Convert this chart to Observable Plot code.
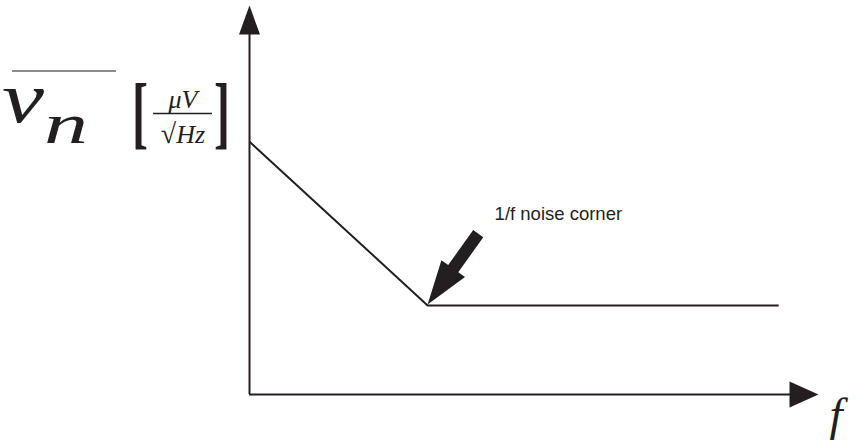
<!DOCTYPE html>
<html>
<head>
<meta charset="utf-8">
<script src="https://cdn.jsdelivr.net/npm/d3@7"></script>
<script src="https://cdn.jsdelivr.net/npm/@observablehq/plot@0.6"></script>
<style>
  html, body { margin: 0; padding: 0; background: #ffffff; }
  #chart svg { display: block; }
</style>
</head>
<body>
<div id="chart"></div>
<script>
// ---- data (arbitrary units) ----
const frequency = [0, 31.3, 93.0];          // f
const noiseDensity = [65.0, 22.9, 22.9];    // v_n
const cornerIndex = 1;                       // the 1/f noise corner
const cornerLabel = "1/f noise corner";
const xAxisLabel = "f";
const xDomain = [0, 100];
const yDomain = [0, 100];

const ink = "#231f20";

const series = frequency.map((f, i) => ({f, v: noiseDensity[i]}));
const corner = [series[cornerIndex]];

// filled triangular arrowhead (tip at the anchor point)
const triangleHead = {
  draw(ctx, l, r) {
    ctx.moveTo(0, -l);
    ctx.lineTo(-r, 0);
    ctx.lineTo(r, 0);
    ctx.closePath();
  }
};
// thick block arrow for the annotation
const blockArrow = {
  draw(ctx, l, r) {
    const shaft = 6.2, head = 44;
    ctx.moveTo(-shaft, 0);
    ctx.lineTo(-shaft, -(l - head));
    ctx.lineTo(-r, -(l - head));
    ctx.lineTo(0, -l);
    ctx.lineTo(r, -(l - head));
    ctx.lineTo(shaft, -(l - head));
    ctx.lineTo(shaft, 0);
    ctx.closePath();
  }
};

const svg = Plot.plot({
  width: 857,
  height: 442,
  marginLeft: 249,
  marginRight: 39,
  marginTop: 5,
  marginBottom: 48,
  x: {domain: xDomain, axis: null},
  y: {domain: yDomain, axis: null},
  style: {background: "#ffffff"},
  marks: [
    // axes
    Plot.ruleY([yDomain[0]], {x1: xDomain[0], x2: xDomain[1] - 3, stroke: ink, strokeWidth: 2}),
    Plot.ruleX([xDomain[0]], {y1: yDomain[0], y2: yDomain[1] - 5, stroke: ink, strokeWidth: 2}),
    Plot.vector([{x: xDomain[1], y: yDomain[0]}], {
      x: "x", y: "y", anchor: "end", rotate: 90, length: 29, r: 13,
      shape: triangleHead, fill: ink, stroke: "none"
    }),
    Plot.vector([{x: xDomain[0], y: yDomain[1]}], {
      x: "x", y: "y", anchor: "end", rotate: 0, length: 29, r: 10.5,
      shape: triangleHead, fill: ink, stroke: "none"
    }),
    // noise curve
    Plot.line(series, {x: "f", y: "v", stroke: ink, strokeWidth: 2, strokeLinejoin: "miter", strokeLinecap: "butt"}),
    // annotation arrow + label
    Plot.vector(corner, {
      x: "f", y: "v", anchor: "end", rotate: 215.6, length: 87, r: 14.5,
      dy: -1, shape: blockArrow, fill: ink, stroke: "none"
    }),
    Plot.text(corner, {
      x: "f", y: "v", text: () => cornerLabel,
      dx: 67, dy: -85.5, textAnchor: "start", lineAnchor: "bottom",
      fontSize: 18.5, fontFamily: "Liberation Sans, Arial, sans-serif", fill: ink
    })
  ]
});

// ---- axis labels (real text, LaTeX-like styling) ----
const s = d3.select(svg);
const serif = "Liberation Serif, Times New Roman, serif";

const yl = s.append("g").attr("fill", ink).attr("font-family", serif);
yl.append("line").attr("x1", 12).attr("x2", 116).attr("y1", 71).attr("y2", 71)
  .attr("stroke", "#8c8c8c").attr("stroke-width", 1.8);
yl.append("text").attr("x", 23).attr("y", 122).attr("font-size", 72)
  .attr("font-style", "italic")
  .attr("textLength", 42).attr("lengthAdjust", "spacingAndGlyphs").text("v");
yl.append("text").attr("x", 66).attr("y", 143).attr("font-size", 56)
  .attr("font-style", "italic")
  .attr("textLength", 44).attr("lengthAdjust", "spacingAndGlyphs").text("n");
yl.append("text").attr("x", 140).attr("y", 139).attr("font-size", 80)
  .attr("font-weight", "bold")
  .attr("textLength", 16).attr("lengthAdjust", "spacingAndGlyphs").text("[");
yl.append("text").attr("x", 222).attr("y", 139).attr("font-size", 80)
  .attr("font-weight", "bold")
  .attr("textLength", 16).attr("lengthAdjust", "spacingAndGlyphs").text("]");
yl.append("text").attr("x", 183).attr("y", 108).attr("font-size", 26)
  .attr("font-style", "italic").attr("text-anchor", "middle").text("μV");
yl.append("line").attr("x1", 153).attr("x2", 212).attr("y1", 113.5).attr("y2", 113.5)
  .attr("stroke", ink).attr("stroke-width", 1.3);
const den = yl.append("text").attr("x", 183).attr("y", 143).attr("font-size", 26)
  .attr("text-anchor", "middle");
den.append("tspan").attr("font-size", 28).text("√");
den.append("tspan").attr("font-style", "italic").text("Hz");

s.append("text").attr("x", 836).attr("y", 430).attr("font-size", 47)
  .attr("font-family", serif).attr("font-style", "italic").attr("fill", ink)
  .text(xAxisLabel);

document.getElementById("chart").appendChild(svg);
</script>
</body>
</html>
